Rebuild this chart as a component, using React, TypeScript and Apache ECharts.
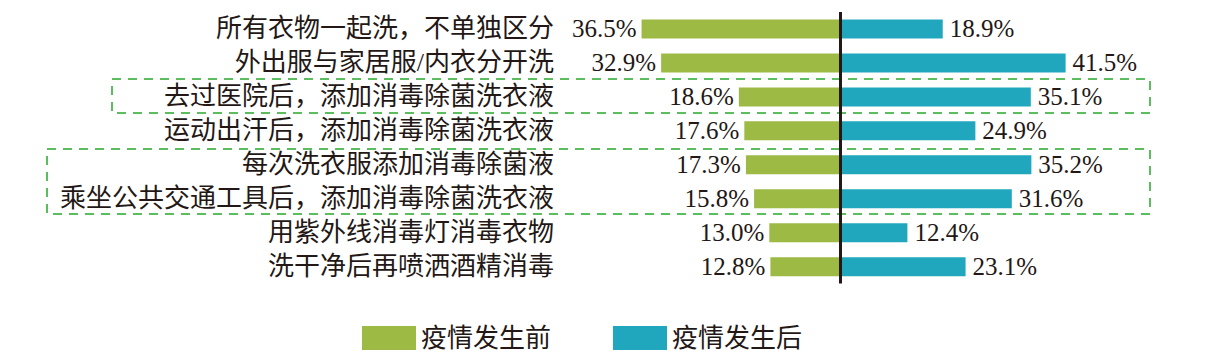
import React, { useEffect, useRef } from "react";
import * as echarts from "echarts";

const categories = [
  "所有衣物一起洗，不单独区分",
  "外出服与家居服/内衣分开洗",
  "去过医院后，添加消毒除菌洗衣液",
  "运动出汗后，添加消毒除菌洗衣液",
  "每次洗衣服添加消毒除菌液",
  "乘坐公共交通工具后，添加消毒除菌洗衣液",
  "用紫外线消毒灯消毒衣物",
  "洗干净后再喷洒酒精消毒",
];
const beforeValues = [36.5, 32.9, 18.6, 17.6, 17.3, 15.8, 13.0, 12.8];
const afterValues = [18.9, 41.5, 35.1, 24.9, 35.2, 31.6, 12.4, 23.1];
const seriesNames = ["疫情发生前", "疫情发生后"];

const FONT = '"Liberation Serif", "Noto Sans CJK SC", serif';

export default function App() {
  const ref = useRef<HTMLDivElement>(null);
  useEffect(() => {
    if (!ref.current) return;
    const chart = echarts.init(ref.current, null, { renderer: "svg" });
    const dash = { stroke: "#5cbd5e", lineWidth: 2, lineDash: [9, 7], fill: "none" };
    chart.setOption({
      animation: false,
      grid: { left: 560, right: 60.8, top: 12, height: 271.6, containLabel: false },
      xAxis: {
        type: "value",
        min: -51.5,
        max: 60,
        show: false,
      },
      yAxis: {
        type: "category",
        data: categories,
        inverse: true,
        axisLine: { show: false, onZero: false },
        axisTick: { show: false },
        axisLabel: { margin: 6, fontSize: 26, color: "#231815", fontFamily: FONT },
      },
      legend: {
        left: 357,
        top: 320,
        itemWidth: 54,
        itemHeight: 24,
        itemGap: 62,
        icon: "rect",
        textStyle: { fontSize: 26, color: "#231815", fontFamily: FONT },
        data: seriesNames,
      },
      series: [
        {
          name: seriesNames[0],
          type: "bar",
          stack: "total",
          barWidth: 19,
          data: beforeValues.map((v) => -v),
          itemStyle: { color: "#9dba45" },
          label: {
            show: true,
            position: "left",
            distance: 5,
            fontSize: 25,
            color: "#231815",
            fontFamily: FONT,
            formatter: (p: any) => Math.abs(p.value).toFixed(1) + "%",
          },
          markLine: {
            silent: true,
            symbol: "none",
            label: { show: false },
            lineStyle: { color: "#231815", width: 3, type: "solid" },
            data: [{ xAxis: 0 }],
          },
        },
        {
          name: seriesNames[1],
          type: "bar",
          stack: "total",
          barWidth: 19,
          data: afterValues,
          itemStyle: { color: "#21a7bd" },
          label: {
            show: true,
            position: "right",
            distance: 7,
            fontSize: 25,
            color: "#231815",
            fontFamily: FONT,
            formatter: (p: any) => Number(p.value).toFixed(1) + "%",
          },
        },
      ],
      graphic: [
        { type: "rect", shape: { x: 112, y: 79, width: 1038, height: 34 }, style: dash, silent: true },
        { type: "rect", shape: { x: 47, y: 149, width: 1103, height: 65 }, style: dash, silent: true },
      ],
    });
    return () => chart.dispose();
  }, []);
  return (
    <div
      ref={ref}
      style={{ position: "fixed", left: 0, top: 0, width: 1227, height: 354, background: "#fff" }}
    />
  );
}
